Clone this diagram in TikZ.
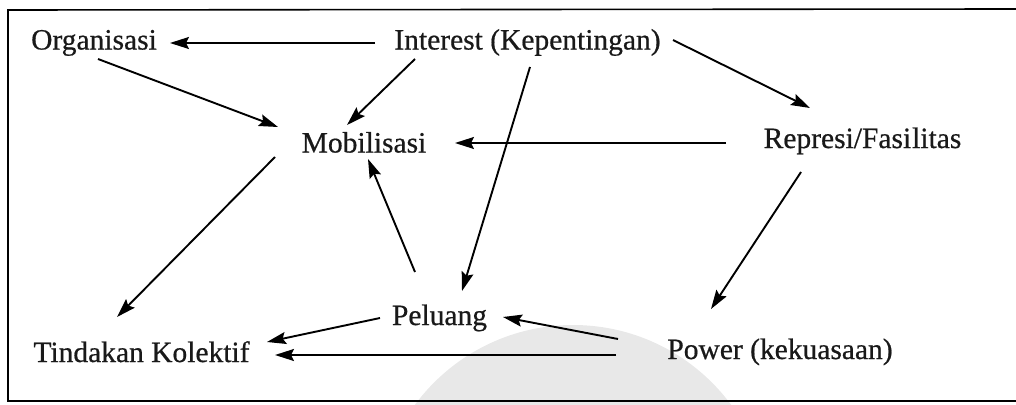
\documentclass[tikz,border=0pt]{standalone}
\usepackage{fontspec}
\setmainfont{Liberation Serif}[FakeBold=0.6]
\usetikzlibrary{arrows.meta}
\begin{document}
\begin{tikzpicture}[x=1pt,y=-1pt,
  lbl/.style={anchor=base,inner sep=0pt,font=\fontsize{29.5}{32}\selectfont,text=black!90},
  arr/.style={line width=1.9pt,-{Stealth[length=19pt,width=12pt,inset=3pt]}},
  frame/.style={line width=1.6pt}]
\useasboundingbox (0,0) rectangle (1016,404);
% watermark
\begin{scope}
\clip (0,0) rectangle (1016,404);
\fill[gray!18] (573,521.5) circle[radius=196.5];
\end{scope}
% frame
\draw[frame] (1016,9) -- (8,10) -- (8,401) -- (1016,401);
% nodes
\node[lbl] (org) at (94,49.5) {Organisasi};
\node[lbl] (int) at (527.5,49.5) {Interest (Kepentingan)};
\node[lbl] (mob) at (364,152.5) {Mobilisasi};
\node[lbl] (rep) at (862.5,148) {Represi/Fasi\kern1pt litas};
\node[lbl] (pel) at (439.5,325) {Peluang};
\node[lbl] (tin) at (141.5,362) {Tindakan Kolektif};
\node[lbl] (pow) at (780,359) {Power (kekuasaan)};
% connectors
\draw[arr] ([shift={(-152.5,-6.5)}]int.base) -- ([shift={(76,-6.5)}]org.base);
\draw[arr] ([shift={(4,9.5)}]org.base) -- ([shift={(-86,-25.5)}]mob.base);
\draw[arr] ([shift={(-112.5,9.5)}]int.base) -- ([shift={(-17,-27.5)}]mob.base);
\draw[arr] ([shift={(145.5,-9.5)}]int.base) -- ([shift={(-52.5,-40)}]rep.base);
\draw[arr] ([shift={(-136.5,-5)}]rep.base) -- ([shift={(91,-9.5)}]mob.base);
\draw[arr] ([shift={(2.5,17.5)}]int.base) -- ([shift={(22.5,-34)}]pel.base);
\draw[arr] ([shift={(-24.5,-53)}]pel.base) -- ([shift={(4,6.5)}]mob.base);
\draw[arr] ([shift={(-89,4.5)}]mob.base) -- ([shift={(-24.5,-45)}]tin.base);
\draw[arr] ([shift={(-61.5,24)}]rep.base) -- ([shift={(-69,-50)}]pow.base);
\draw[arr] ([shift={(-162,-20)}]pow.base) -- ([shift={(63.5,-8)}]pel.base);
\draw[arr] ([shift={(-59.5,-7)}]pel.base) -- ([shift={(125.5,-20)}]tin.base);
\draw[arr] ([shift={(-164,-4)}]pow.base) -- ([shift={(133.5,-7)}]tin.base);
\end{tikzpicture}
\end{document}
